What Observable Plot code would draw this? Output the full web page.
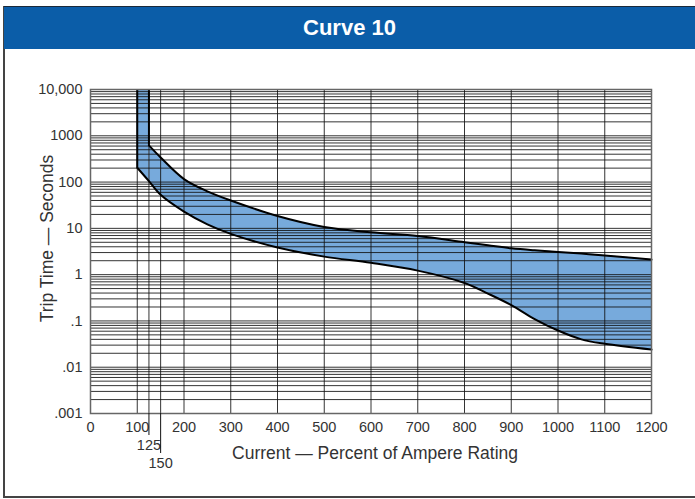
<!DOCTYPE html>
<html>
<head>
<meta charset="utf-8">
<script src="https://cdn.jsdelivr.net/npm/d3@7"></script>
<script src="https://cdn.jsdelivr.net/npm/@observablehq/plot@0.6"></script>
<style>
  html, body { margin: 0; padding: 0; background: #fff; }
  body { width: 695px; height: 499px; position: relative; overflow: hidden; font-family: "Liberation Sans", Arial, sans-serif; }
  #frame { position: absolute; left: 3px; top: 6px; width: 710px; height: 492px; border: 2px solid #444; box-sizing: border-box; }
  #header { position: absolute; left: 4px; top: 6px; width: 700px; height: 43px; background: #0b5da8; border-top: 1px solid #1a2a3a; box-sizing: border-box;
            color: #fff; font-weight: bold; font-size: 22px; line-height: 42px; }
  #header span { position: absolute; left: 0; width: 691px; text-align: center; }
  #chart { position: absolute; left: 0; top: 49px; }
  #chart svg { font-family: "Liberation Sans", Arial, sans-serif; }
</style>
</head>
<body>
<div id="frame"></div>
<div id="header"><span>Curve 10</span></div>
<div id="chart"></div>
<script>
// ---- data ----
const xTicks = [0, 100, 200, 300, 400, 500, 600, 700, 800, 900, 1000, 1100, 1200];
const xGridLines = [100, 125, 150, 200, 300, 400, 500, 600, 700, 800, 900, 1000, 1100, 1200];
const yTicks = [0.001, 0.01, 0.1, 1, 10, 100, 1000, 10000];
const yTickLabels = [".001", ".01", ".1", "1", "10", "100", "1000", "10,000"];
const mantissas = [1, 2, 3, 4, 5, 6, 7, 8, 9];
const decades = [0.001, 0.01, 0.1, 1, 10, 100, 1000];
const topTime = 10000;
const xLabel = "Current — Percent of Ampere Rating";
const yLabel = "Trip Time — Seconds";

// band edges (percent of rating, seconds)
const lowerStartX = 100, lowerStartT = 204;     // lower curve vertical at 100%
const upperStartX = 125;                         // upper curve vertical at 125%
const curveX = [125, 150, 200, 250, 300, 400, 500, 600, 700, 800, 850, 900, 950, 1000, 1050, 1100, 1200];
const upperT = [620, 340, 116, 63, 40, 18.5, 10.7, 8.2, 6.8, 5.0, 4.3, 3.7, 3.35, 3.1, 2.85, 2.6, 2.12];
const lowerT = [105, 53, 23, 12.2, 7.6, 3.85, 2.45, 1.8, 1.22, 0.66, 0.39, 0.22, 0.11, 0.062, 0.04, 0.032, 0.024];

// ---- derived tables ----
const yGrid = decades.flatMap(d => mantissas.map(m => +(m * d).toPrecision(3))).concat([topTime]);
const band = curveX.map((x, i) => ({x, lo: lowerT[i], hi: upperT[i]}));
const column = [
  {x: lowerStartX, lo: lowerStartT, hi: topTime},
  {x: curveX[0], lo: lowerT[0], hi: topTime}
];
const lowerLine = [{x: lowerStartX, t: lowerStartT}].concat(curveX.map((x, i) => ({x, t: lowerT[i]})));
const upperLine = curveX.map((x, i) => ({x, t: upperT[i]}));
const verticals = [
  {x: lowerStartX, y1: lowerStartT, y2: topTime},
  {x: upperStartX, y1: upperT[0], y2: topTime}
];
const labelOf = new Map(yTicks.map((t, i) => [t, yTickLabels[i]]));

const fillColor = "#77aadc";
const crv = "catmull-rom";

const chart = Plot.plot({
  width: 695,
  height: 450,
  marginLeft: 90,
  marginRight: 44,
  marginTop: 40,
  marginBottom: 86,
  x: {domain: [0, 1200]},
  y: {type: "log", domain: [0.001, 10000]},
  style: {fontSize: "14.5px", color: "#333", background: "transparent"},
  marks: [
    Plot.areaY(column, {x: "x", y1: "lo", y2: "hi", fill: fillColor}),
    Plot.areaY(band, {x: "x", y1: "lo", y2: "hi", fill: fillColor, curve: crv}),
    Plot.ruleY(yGrid, {stroke: "#111", strokeOpacity: 0.85, strokeWidth: 1}),
    Plot.ruleX(xGridLines, {stroke: "#111", strokeOpacity: 0.85, strokeWidth: 1}),
    Plot.ruleX(verticals, {x: "x", y1: "y1", y2: "y2", stroke: "#000", strokeWidth: 2}),
    Plot.line(lowerLine, {x: "x", y: "t", stroke: "#000", strokeWidth: 2, curve: crv}),
    Plot.line(upperLine, {x: "x", y: "t", stroke: "#000", strokeWidth: 2, curve: crv}),
    Plot.frame({stroke: "#666", strokeWidth: 1.5}),
    Plot.axisY({ticks: yTicks, tickFormat: d => labelOf.get(d), tickSize: 0, tickPadding: 8, fontSize: 14.5, label: null}),
    Plot.axisX({ticks: xTicks, tickFormat: d => String(d), tickSize: 0, tickPadding: 8, fontSize: 14.5, label: null}),
    Plot.axisX({ticks: [125], tickFormat: d => String(d), tickSize: 22, tickPadding: 4, fontSize: 14.5, label: null, stroke: "#111"}),
    Plot.axisX({ticks: [150], tickFormat: d => String(d), tickSize: 40, tickPadding: 4, fontSize: 14.5, label: null, stroke: "#111"}),
    Plot.text([yLabel], {frameAnchor: "left", text: d => d, rotate: -90, textAnchor: "middle", lineAnchor: "middle",
                         dx: -43, dy: -13, fontSize: 17.5, fill: "#333"}),
    Plot.text([xLabel], {frameAnchor: "bottom", text: d => d, textAnchor: "middle", lineAnchor: "middle",
                         dx: 4, dy: 40, fontSize: 17.5, fill: "#333"})
  ]
});
document.getElementById("chart").appendChild(chart);
</script>
</body>
</html>
